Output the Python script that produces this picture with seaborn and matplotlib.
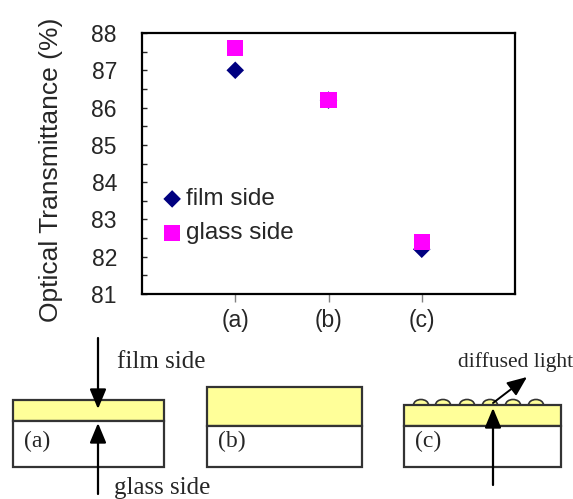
import matplotlib.pyplot as plt
import matplotlib.patches as mpatches
from matplotlib.ticker import MultipleLocator
import seaborn as sns

# values
samples = ["(a)", "(b)", "(c)"]
film_side = [87.0, 86.2, 82.2]
glass_side = [87.6, 86.2, 82.4]

sns.set_style("white")
plt.rcParams["font.family"] = ["Liberation Sans", "DejaVu Sans"]

W, H = 573, 499
fig = plt.figure(figsize=(W / 100, H / 100), dpi=100)
ax = fig.add_axes([142 / W, 1 - 294 / H, (515 - 142) / W, (294 - 33) / H])

sns.scatterplot(x=samples, y=film_side, marker="D", color="#000080", s=80,
                edgecolor="none", label="film side", ax=ax)
sns.scatterplot(x=samples, y=glass_side, marker="s", color="#FF00FF", s=140,
                edgecolor="none", label="glass side", ax=ax)

ax.set_xlim(-1, 3)
ax.set_ylim(81, 88)
ax.set_yticks(range(81, 89))
ax.yaxis.set_minor_locator(MultipleLocator(0.5))
for sp in ax.spines.values():
    sp.set_visible(True)
    sp.set_color("black")
    sp.set_linewidth(1.6)
ax.tick_params(axis="y", which="both", direction="in", length=3.8, width=1,
               left=True, pad=18, labelsize=16.5)
ax.tick_params(axis="x", direction="out", length=5.8, width=1, color="#808080",
               bottom=True, pad=5, labelsize=16.5)
ax.set_xlabel("")
ax.set_ylabel("Optical Transmittance (%)", fontsize=19)
ax.yaxis.set_label_coords(-0.212, 0.475)

ax.legend(loc="upper left", bbox_to_anchor=(0.058, 0.405), frameon=False,
          fontsize=17.5, handlelength=0.7, handletextpad=0.2, labelspacing=0.5,
          borderpad=0, borderaxespad=0)

# schematic of the three samples below the chart (pixel coordinates)
dax = fig.add_axes([0, 0, 1, 1])
dax.set_xlim(0, W)
dax.set_ylim(H, 0)
dax.set_axis_off()

yellow = "#FFFF99"
edge = "#333333"
serif = ["Liberation Serif", "DejaVu Serif"]

# surface bumps of sample (c)
for cx in [421, 443, 467, 490, 513, 536]:
    dax.add_patch(mpatches.Ellipse((cx, 405), 15, 11, facecolor=yellow,
                                   edgecolor=edge, lw=1.2, zorder=1))

boxes = [("(a)", 13, 164, 400, 421), ("(b)", 207, 362, 387, 426),
         ("(c)", 404, 561, 405, 426)]
for name, x0, x1, ytop, ymid in boxes:
    dax.add_patch(mpatches.Rectangle((x0, ytop), x1 - x0, ymid - ytop,
                                     facecolor=yellow, edgecolor=edge, lw=1.6, zorder=2))
    dax.add_patch(mpatches.Rectangle((x0, ymid), x1 - x0, 467 - ymid,
                                     facecolor="white", edgecolor=edge, lw=1.6, zorder=2))
    dax.text(x0 + 11, 441, name, family=serif, fontsize=17, va="center", ha="left", zorder=3)

arrow = dict(arrowstyle="-|>,head_length=0.6,head_width=0.25", mutation_scale=20,
             color="black", lw=1.6, shrinkA=0, shrinkB=0)
dax.annotate("", xy=(98, 409), xytext=(98, 338), arrowprops=arrow, zorder=4)
dax.annotate("", xy=(98, 423), xytext=(98, 494), arrowprops=arrow, zorder=4)
dax.annotate("", xy=(493, 408), xytext=(493, 485), arrowprops=arrow, zorder=4)
dax.annotate("", xy=(527, 377), xytext=(493, 403),
             arrowprops=dict(arrow, lw=1.4), zorder=4)

dax.text(117, 368, "film side", family=serif, fontsize=18, va="baseline", ha="left")
dax.text(114, 494, "glass side", family=serif, fontsize=18, va="baseline", ha="left")
dax.text(458, 367, "diffused light", family=serif, fontsize=15.5, va="baseline", ha="left")

fig.savefig("out.png", dpi=100)
